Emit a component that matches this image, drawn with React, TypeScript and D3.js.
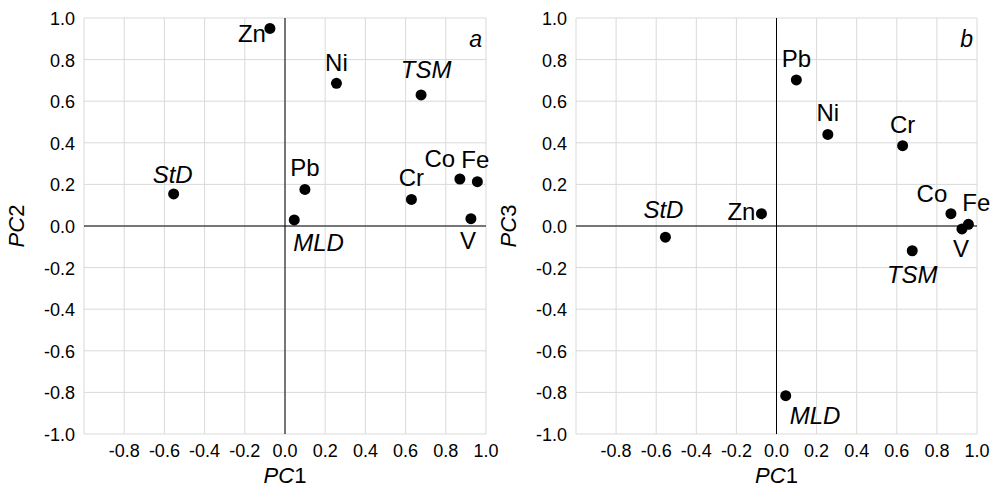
import React from "react";
import * as d3 from "d3";

// ---- Data ----
const variables = ["Zn", "Ni", "TSM", "StD", "Pb", "MLD", "Cr", "Co", "Fe", "V"];
const italicVars = ["TSM", "StD", "MLD"];
const pc1 = [-0.075, 0.256, 0.677, -0.554, 0.099, 0.046, 0.629, 0.87, 0.957, 0.925];
const pc2 = [0.95, 0.686, 0.63, 0.154, 0.176, 0.029, 0.128, 0.226, 0.213, 0.035];
const pc3 = [0.059, 0.44, -0.119, -0.054, 0.702, -0.816, 0.386, 0.059, 0.008, -0.014];
const yTicks = [-1.0, -0.8, -0.6, -0.4, -0.2, 0.0, 0.2, 0.4, 0.6, 0.8, 1.0];
const xTicks = [-0.8, -0.6, -0.4, -0.2, 0.0, 0.2, 0.4, 0.6, 0.8, 1.0];
const gridValues = [-1.0, -0.8, -0.6, -0.4, -0.2, 0.0, 0.2, 0.4, 0.6, 0.8, 1.0];

// ---- Label placement (dx, dy to baseline, anchor) ----
type Off = [number, number, string];
const offsetsA: Record<string, Off> = {
  Zn: [-4, 14, "end"],
  Ni: [0, -12, "middle"],
  TSM: [5, -17, "middle"],
  StD: [-1, -11, "middle"],
  Pb: [0, -13, "middle"],
  MLD: [-1, 31, "start"],
  Cr: [0, -13, "middle"],
  Co: [-20, -12, "middle"],
  Fe: [-2, -14, "middle"],
  V: [-3, 30, "middle"],
};
const offsetsB: Record<string, Off> = {
  Zn: [-6, 6, "end"],
  Ni: [0, -13, "middle"],
  TSM: [0, 32, "middle"],
  StD: [-2, -19, "middle"],
  Pb: [0, -13, "middle"],
  MLD: [4, 28, "start"],
  Cr: [0, -13, "middle"],
  Co: [-19, -12, "middle"],
  Fe: [8, -13, "middle"],
  V: [-1, 28, "middle"],
};

const FONT = "'Liberation Sans', Arial, Helvetica, sans-serif";
const fmt = (v: number) => (Math.abs(v) < 1e-9 ? "0.0" : v.toFixed(1));

type PanelProps = {
  x0: number;
  x1: number;
  yv: number[];
  yName: string;
  letter: string;
  offsets: Record<string, Off>;
  yTitleX: number;
};

const Y0 = 18;
const Y1 = 434;

function Panel({ x0, x1, yv, yName, letter, offsets, yTitleX }: PanelProps) {
  const x = d3.scaleLinear().domain([-1, 1]).range([x0, x1]);
  const y = d3.scaleLinear().domain([-1, 1]).range([Y1, Y0]);
  return (
    <g>
      {gridValues.map((v) => (
        <line key={"gx" + v} x1={x(v)} x2={x(v)} y1={Y0} y2={Y1} stroke="#d9d9d9" strokeWidth={1} />
      ))}
      {gridValues.map((v) => (
        <line key={"gy" + v} x1={x0} x2={x1} y1={y(v)} y2={y(v)} stroke="#d9d9d9" strokeWidth={1} />
      ))}
      <line x1={x(0)} x2={x(0)} y1={Y0} y2={Y1} stroke="#000" strokeWidth={1} />
      <line x1={x0} x2={x1} y1={y(0)} y2={y(0)} stroke="#000" strokeWidth={1} />
      {yTicks.map((v) => (
        <text key={"ty" + v} x={x0 - 9} y={y(v) + 7} textAnchor="end" fontSize={18} fontFamily={FONT} fill="#000">
          {fmt(v)}
        </text>
      ))}
      {xTicks.map((v) => (
        <text key={"tx" + v} x={x(v)} y={457} textAnchor="middle" fontSize={18} fontFamily={FONT} fill="#000">
          {fmt(v)}
        </text>
      ))}
      <text x={x(0)} y={483} textAnchor="middle" fontSize={22} fontFamily={FONT} fill="#000">
        <tspan fontStyle="italic">PC</tspan>
        <tspan>1</tspan>
      </text>
      <text
        transform={`translate(${yTitleX},${y(0)}) rotate(-90)`}
        textAnchor="middle"
        fontSize={22}
        fontFamily={FONT}
        fill="#000"
      >
        <tspan fontStyle="italic">PC</tspan>
        <tspan>{yName.replace("PC", "")}</tspan>
      </text>
      <text x={x1 - 4} y={Y0 + 29} textAnchor="end" fontSize={23} fontStyle="italic" fontFamily={FONT} fill="#000">
        {letter}
      </text>
      {variables.map((n, i) => (
        <circle key={"p" + n} cx={x(pc1[i])} cy={y(yv[i])} r={5.5} fill="#000" />
      ))}
      {variables.map((n, i) => {
        const [dx, dy, anchor] = offsets[n];
        return (
          <text
            key={"l" + n}
            x={x(pc1[i]) + dx}
            y={y(yv[i]) + dy}
            textAnchor={anchor as any}
            fontSize={24}
            fontStyle={italicVars.includes(n) ? "italic" : "normal"}
            fontFamily={FONT}
            fill="#000"
          >
            {n}
          </text>
        );
      })}
    </g>
  );
}

export default function App() {
  return (
    <svg width={994} height={488} style={{ position: "absolute", left: 0, top: 0, background: "#fff" }}>
      <rect x={0} y={0} width={994} height={488} fill="#fff" />
      <Panel x0={84} x1={486} yv={pc2} yName="PC2" letter="a" offsets={offsetsA} yTitleX={24} />
      <Panel x0={576} x1={977} yv={pc3} yName="PC3" letter="b" offsets={offsetsB} yTitleX={516} />
    </svg>
  );
}
